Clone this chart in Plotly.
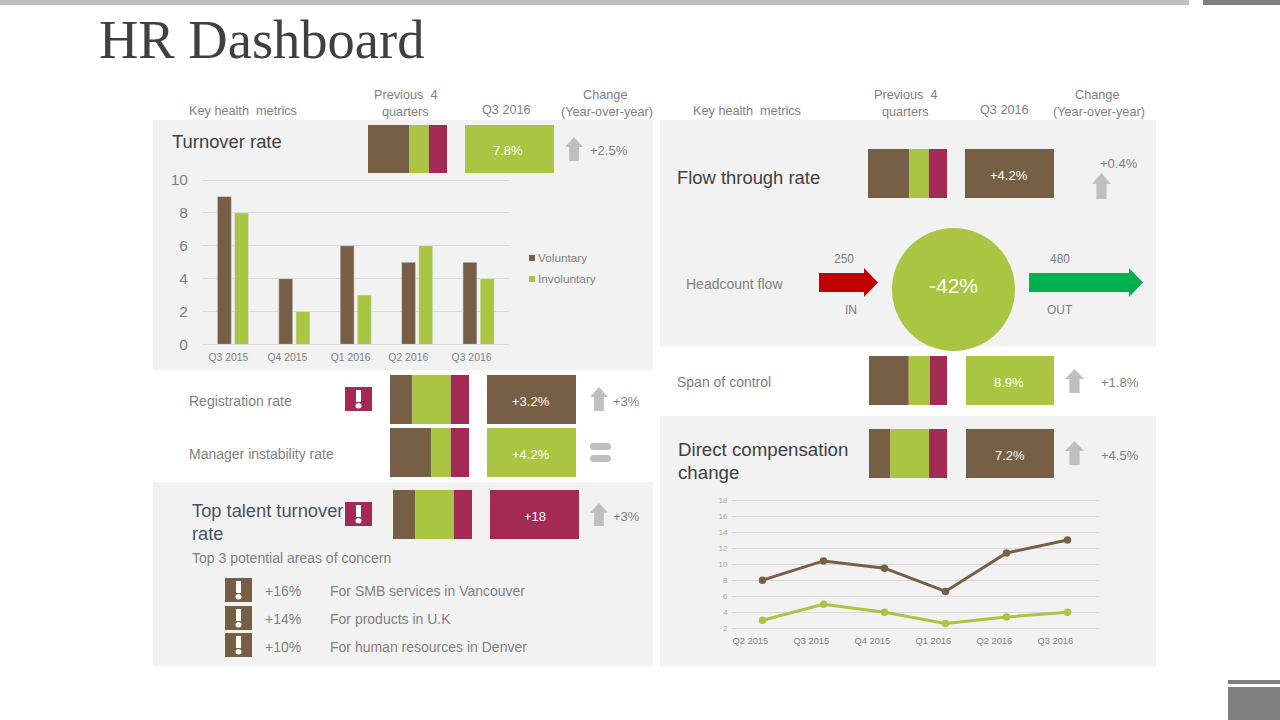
import re
import plotly.graph_objects as go

W, H = 1280, 720
BROWN, GREEN, CRIMSON = "#775F45", "#A9C542", "#A32A55"
PANEL, ARROW, TXT, DARK = "#F2F2F2", "#BFBFBF", "#7F7F7F", "#404040"
SLATE = "#44546A"
SANS = "Liberation Sans"

# ---- data ----
turnover_quarters = ["Q3 2015", "Q4 2015", "Q1 2016", "Q2 2016", "Q3 2016"]
turnover_voluntary = [9, 4, 6, 5, 5]
turnover_involuntary = [8, 2, 3, 6, 4]
turnover_label_shift = [-0.07, -0.11, -0.08, -0.14, -0.11]
comp_quarters = ["Q2 2015", "Q3 2015", "Q4 2015", "Q1 2016", "Q2 2016", "Q3 2016"]
comp_upper = [8, 10.4, 9.5, 6.6, 11.4, 13]
comp_lower = [3, 5, 4, 2.6, 3.4, 4]
comp_label_shift = -0.2

stack_turnover = [52, 25, 23]
stack_registration = [28, 49, 23]
stack_manager = [52, 25, 23]
stack_talent = [28, 49, 23]
stack_flow = [52, 25, 23]
stack_span = [51, 27, 22]
stack_direct = [27, 50, 23]


def fx(x):
    return x / W


def fy(y):
    return 1 - y / H


shapes, notes = [], []


def rect(x0, y0, x1, y1, color):
    shapes.append(dict(type="rect", xref="paper", yref="paper", x0=fx(x0), x1=fx(x1),
                       y0=fy(y0), y1=fy(y1), fillcolor=color, line_width=0, layer="below"))


def circle(x0, y0, x1, y1, color):
    shapes.append(dict(type="circle", xref="paper", yref="paper", x0=fx(x0), x1=fx(x1),
                       y0=fy(y0), y1=fy(y1), fillcolor=color, line_width=0, layer="below"))


def path(d, color):
    def conv(m):
        return f"{fx(float(m.group(1))):.5f},{fy(float(m.group(2))):.5f}"
    shapes.append(dict(type="path", xref="paper", yref="paper",
                       path=re.sub(r"([\d.]+),([\d.]+)", conv, d),
                       fillcolor=color, line_width=0, layer="below"))


def text(x, y, s, size=13, color=TXT, anchor="center", family=SANS):
    if anchor == "left":
        x -= 1
    notes.append(dict(xref="paper", yref="paper", x=fx(x), y=fy(y), text=s, showarrow=False,
                      xanchor=anchor, yanchor="middle", borderpad=0,
                      font=dict(size=size, color=color, family=family)))


def up_arrow(x0, y0, x1, y1):
    cx = (x0 + x1) / 2
    head = y0 + (y1 - y0) * 0.42
    s = (x1 - x0) * 0.27
    path(f"M{cx},{y0} L{x1},{head} L{cx+s},{head} L{cx+s},{y1} L{cx-s},{y1} L{cx-s},{head} L{x0},{head} Z", ARROW)


def right_arrow(x0, x1, xh, color):
    path(f"M{x0},273 L{xh},273 L{xh},268 L{x1},282.5 L{xh},297 L{xh},292 L{x0},292 Z", color)


def alert(x0, y0, color):
    rect(x0, y0, x0 + 27, y0 + 24, color)
    rect(x0 + 11, y0 + 3, x0 + 16, y0 + 15, "#FFFFFF")
    circle(x0 + 10.5, y0 + 16, x0 + 16.5, y0 + 21.5, "#FFFFFF")


def tile(x0, y0, x1, y1, color, label, tx, ty):
    rect(x0, y0, x1, y1, color)
    text(tx, ty, label, 13, "#FFFFFF")


# ---- page furniture ----
rect(0, 0, 1189, 5, "#BFBFBF")
rect(1203, 0, 1280, 5, "#7F7F7F")
rect(1228, 680, 1280, 684, "#7F7F7F")
rect(1228, 687, 1280, 720, "#7F7F7F")
rect(153, 120, 653, 370, PANEL)
rect(153, 482, 653, 666, PANEL)
rect(660, 120, 1156, 346, PANEL)
rect(660, 416, 1156, 666, PANEL)

text(99, 39, "HR Dashboard", 54.5, DARK, "left", "Liberation Serif")

for x_metric, x_prev, x_q, x_chg, x_yoy in [(243, 405, 506.5, 605, 607), (747, 905.5, 1004, 1097, 1099)]:
    text(x_metric, 111, "Key health\u00a0 metrics", 12.7)
    text(x_prev, 95, "Previous\u00a0 4", 12.7)
    text(x_prev, 112, "quarters", 12.7)
    text(x_q, 110, "Q3 2016", 12.7)
    text(x_chg, 95, "Change", 12.7)
    text(x_yoy, 112, "(Year-over-year)", 12.7)

text(172, 142, "Turnover rate", 18.4, DARK, "left")
text(677, 177, "Flow through rate", 18.4, DARK, "left")
text(678, 449, "Direct compensation", 18.7, DARK, "left")
text(678, 472, "change", 18.7, DARK, "left")
text(192, 510, "Top talent turnover", 18.3, SLATE, "left")
text(192, 533, "rate", 18.3, SLATE, "left")
text(189, 401, "Registration rate", 14, TXT, "left")
text(189, 454, "Manager instability rate", 14, TXT, "left")
text(677, 382, "Span of control", 14, TXT, "left")
text(686, 284, "Headcount flow", 14, TXT, "left")
text(192, 558, "Top 3 potential areas of concern", 14, TXT, "left")

for y, a, b in [(591, "+16%", "For SMB services in Vancouver"),
                (619, "+14%", "For products in U.K"),
                (647, "+10%", "For human resources in Denver")]:
    text(265, y, a, 14, TXT, "left")
    text(330, y, b, 14, TXT, "left")

tile(465, 125, 554, 173, GREEN, "7.8%", 508, 150)
tile(487, 375, 576, 424, BROWN, "+3.2%", 531, 401)
tile(487, 428, 576, 477, GREEN, "+4.2%", 531, 454)
tile(490, 490, 579, 539, CRIMSON, "+18", 535, 516)
tile(965, 149, 1054, 198, BROWN, "+4.2%", 1009, 175)
tile(966, 356, 1054, 405, GREEN, "8.9%", 1009, 382)
tile(966, 429, 1054, 478, BROWN, "7.2%", 1010, 455)

up_arrow(565, 137, 583, 161)
up_arrow(590, 387, 608, 411)
up_arrow(590, 503, 608, 526)
up_arrow(1092, 173, 1111, 199)
up_arrow(1065, 369, 1084, 393)
up_arrow(1065, 441, 1084, 465)
text(608.5, 150, "+2.5%")
text(626, 401, "+3%")
text(626, 516, "+3%")
text(1119, 164, "+0.4%")
text(1120, 382, "+1.8%")
text(1120, 455, "+4.5%")

for y0 in (443, 455):
    y1 = y0 + 7
    path(f"M593.5,{y0} L607.5,{y0} Q611,{y0} 611,{y0+3.5} Q611,{y1} 607.5,{y1} "
         f"L593.5,{y1} Q590,{y1} 590,{y0+3.5} Q590,{y0} 593.5,{y0} Z", ARROW)

alert(345, 387, CRIMSON)
alert(345, 502, CRIMSON)
alert(225, 578, BROWN)
alert(225, 606, BROWN)
alert(225, 633, BROWN)

circle(892, 228, 1015, 351, GREEN)
text(953.5, 285.5, "-42%", 21, "#FFFFFF")
right_arrow(819, 878, 864, "#C00000")
right_arrow(1029, 1143, 1129, "#00B050")
text(844, 259, "250", 12)
text(1060, 259, "480", 12)
text(850.5, 310, "IN", 12)
text(1060, 310, "OUT", 12)

rect(529, 255, 535, 261, BROWN)
rect(529, 276, 535, 282, GREEN)
text(537.5, 258, "Voluntary", 11.8, TXT, "left")
text(537.5, 279, "Involuntary", 11.8, TXT, "left")

# ---- figure ----
fig = go.Figure()
axis_n = 0


def new_axes(x0, y0, x1, y1, xkw, ykw):
    global axis_n
    axis_n += 1
    sfx = "" if axis_n == 1 else str(axis_n)
    fig.layout[f"xaxis{sfx}"] = dict(domain=[fx(x0), fx(x1)], anchor=f"y{sfx}", fixedrange=True,
                                     automargin=False, **xkw)
    fig.layout[f"yaxis{sfx}"] = dict(domain=[fy(y1), fy(y0)], anchor=f"x{sfx}", fixedrange=True,
                                     automargin=False, **ykw)
    return f"x{sfx}", f"y{sfx}"


# turnover bars (axis runs 3 px past 10 so the top gridline is kept)
xa, ya = new_axes(202, 177, 509, 344.4,
                  dict(range=[-0.5, 4.5], tickmode="array",
                       tickvals=[i + s for i, s in enumerate(turnover_label_shift)],
                       ticktext=turnover_quarters, showgrid=False, zeroline=False,
                       showline=True, linecolor="#D9D9D9", ticks="outside",
                       tickcolor="rgba(0,0,0,0)", ticklen=3,
                       tickfont=dict(size=10.4, color=TXT, family=SANS)),
                  dict(range=[0, 10 + 3 / 16.44], tick0=0, dtick=2, gridcolor="#D9D9D9", zeroline=False,
                       ticks="outside", tickcolor="rgba(0,0,0,0)", ticklen=10,
                       tickfont=dict(size=15.5, color=TXT, family=SANS)))
idx = list(range(len(turnover_quarters)))
fig.add_bar(x=idx, y=turnover_voluntary, name="Voluntary", marker_color=BROWN, width=0.228,
            offset=-0.25, xaxis=xa, yaxis=ya, hoverinfo="skip", showlegend=False)
fig.add_bar(x=idx, y=turnover_involuntary, name="Involuntary", marker_color=GREEN, width=0.228,
            offset=0.03, xaxis=xa, yaxis=ya, hoverinfo="skip", showlegend=False)

# compensation lines (axis runs 3 px past both ends so the end gridlines are kept)
pad = 3 / 8.02
xa, ya = new_axes(732, 497, 1098, 631.3,
                  dict(range=[-0.5, 5.5], tickmode="array",
                       tickvals=[i + comp_label_shift for i in range(len(comp_quarters))],
                       ticktext=comp_quarters, showgrid=False, zeroline=False,
                       ticks="outside", tickcolor="rgba(0,0,0,0)", ticklen=0.1,
                       tickfont=dict(size=9.3, color=TXT, family=SANS)),
                  dict(range=[2 - pad, 18 + pad], tick0=2, dtick=2, gridcolor="#D9D9D9", zeroline=False,
                       ticks="outside", tickcolor="rgba(0,0,0,0)", ticklen=2,
                       tickfont=dict(size=8, color="#A6A6A6", family=SANS)))
idx = list(range(len(comp_quarters)))
for vals, col in [(comp_upper, BROWN), (comp_lower, GREEN)]:
    fig.add_scatter(x=idx, y=vals, mode="lines+markers", line=dict(color=col, width=3),
                    marker=dict(color=col, size=7.5), xaxis=xa, yaxis=ya,
                    hoverinfo="skip", showlegend=False, cliponaxis=False)

# mini stacks
hidden = dict(visible=False)
for (x0, y0, x1, y1), vals in [((368, 125, 447, 173), stack_turnover),
                               ((390, 375, 469, 424), stack_registration),
                               ((390, 428, 469, 477), stack_manager),
                               ((393, 490, 472, 539), stack_talent),
                               ((868, 149, 947, 198), stack_flow),
                               ((869, 356, 947, 405), stack_span),
                               ((869, 429, 947, 478), stack_direct)]:
    xa, ya = new_axes(x0, y0, x1, y1, dict(range=[0, sum(vals)], **hidden),
                      dict(range=[-0.5, 0.5], **hidden))
    bases = [sum(vals[:i]) for i in range(len(vals))]
    fig.add_bar(x=vals, y=[0] * len(vals), base=bases, orientation="h", width=1, offset=-0.5,
                marker=dict(color=[BROWN, GREEN, CRIMSON], line_width=0), xaxis=xa, yaxis=ya,
                hoverinfo="skip", showlegend=False)

fig.update_layout(width=W, height=H, margin=dict(l=0, r=0, t=0, b=0), autosize=False,
                  barmode="overlay", showlegend=False, shapes=shapes, annotations=notes,
                  paper_bgcolor="#FFFFFF", plot_bgcolor="rgba(0,0,0,0)",
                  font=dict(family=SANS, color=TXT))
fig.write_html("out.html", config=dict(displayModeBar=False),
               post_script="document.body.style.margin='0';document.body.style.overflow='hidden';")
